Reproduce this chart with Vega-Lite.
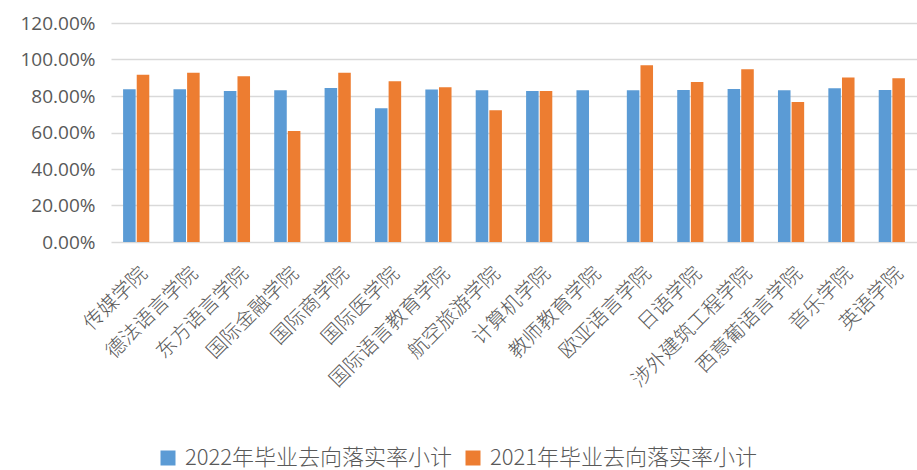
{
  "$schema": "https://vega.github.io/schema/vega-lite/v6.json",
  "autosize": {"type": "none"},
  "width": 806,
  "height": 219,
  "padding": {"left": 111, "top": 23, "right": 0, "bottom": 228},
  "background": "white",
  "data": {
    "values": [
      {"学院": "传媒学院", "系列": "2022年毕业去向落实率小计", "值": 0.837},
      {"学院": "传媒学院", "系列": "2021年毕业去向落实率小计", "值": 0.916},
      {"学院": "德法语言学院", "系列": "2022年毕业去向落实率小计", "值": 0.837},
      {"学院": "德法语言学院", "系列": "2021年毕业去向落实率小计", "值": 0.927},
      {"学院": "东方语言学院", "系列": "2022年毕业去向落实率小计", "值": 0.828},
      {"学院": "东方语言学院", "系列": "2021年毕业去向落实率小计", "值": 0.908},
      {"学院": "国际金融学院", "系列": "2022年毕业去向落实率小计", "值": 0.832},
      {"学院": "国际金融学院", "系列": "2021年毕业去向落实率小计", "值": 0.608},
      {"学院": "国际商学院", "系列": "2022年毕业去向落实率小计", "值": 0.844},
      {"学院": "国际商学院", "系列": "2021年毕业去向落实率小计", "值": 0.927},
      {"学院": "国际医学院", "系列": "2022年毕业去向落实率小计", "值": 0.733},
      {"学院": "国际医学院", "系列": "2021年毕业去向落实率小计", "值": 0.881},
      {"学院": "国际语言教育学院", "系列": "2022年毕业去向落实率小计", "值": 0.835},
      {"学院": "国际语言教育学院", "系列": "2021年毕业去向落实率小计", "值": 0.848},
      {"学院": "航空旅游学院", "系列": "2022年毕业去向落实率小计", "值": 0.832},
      {"学院": "航空旅游学院", "系列": "2021年毕业去向落实率小计", "值": 0.722},
      {"学院": "计算机学院", "系列": "2022年毕业去向落实率小计", "值": 0.828},
      {"学院": "计算机学院", "系列": "2021年毕业去向落实率小计", "值": 0.828},
      {"学院": "教师教育学院", "系列": "2022年毕业去向落实率小计", "值": 0.832},
      {"学院": "欧亚语言学院", "系列": "2022年毕业去向落实率小计", "值": 0.832},
      {"学院": "欧亚语言学院", "系列": "2021年毕业去向落实率小计", "值": 0.969},
      {"学院": "日语学院", "系列": "2022年毕业去向落实率小计", "值": 0.833},
      {"学院": "日语学院", "系列": "2021年毕业去向落实率小计", "值": 0.877},
      {"学院": "涉外建筑工程学院", "系列": "2022年毕业去向落实率小计", "值": 0.839},
      {"学院": "涉外建筑工程学院", "系列": "2021年毕业去向落实率小计", "值": 0.947},
      {"学院": "西意葡语言学院", "系列": "2022年毕业去向落实率小计", "值": 0.832},
      {"学院": "西意葡语言学院", "系列": "2021年毕业去向落实率小计", "值": 0.767},
      {"学院": "音乐学院", "系列": "2022年毕业去向落实率小计", "值": 0.842},
      {"学院": "音乐学院", "系列": "2021年毕业去向落实率小计", "值": 0.901},
      {"学院": "英语学院", "系列": "2022年毕业去向落实率小计", "值": 0.833},
      {"学院": "英语学院", "系列": "2021年毕业去向落实率小计", "值": 0.897}
    ]
  },
  "mark": {"type": "bar"},
  "encoding": {
    "x": {
      "field": "学院",
      "type": "nominal",
      "sort": null,
      "scale": {"paddingInner": 0.48, "paddingOuter": 0.24},
      "axis": {
        "title": null,
        "labelAngle": -45,
        "labelAlign": "right",
        "labelBaseline": "middle",
        "labelFont": "Noto Sans CJK SC",
        "labelFontSize": 20,
        "labelFontWeight": 300,
        "labelColor": "#595959",
        "labelPadding": 28,
        "labelOffset": 8,
        "labelLimit": 400,
        "ticks": false,
        "domain": false,
        "grid": false
      }
    },
    "xOffset": {
      "field": "系列",
      "type": "nominal",
      "sort": ["2022年毕业去向落实率小计", "2021年毕业去向落实率小计"],
      "scale": {"paddingInner": 0.08, "paddingOuter": 0}
    },
    "y": {
      "field": "值",
      "type": "quantitative",
      "scale": {"domain": [0, 1.2], "nice": false},
      "axis": {
        "title": null,
        "format": ".2%",
        "values": [0, 0.2, 0.4, 0.6, 0.8, 1.0, 1.2],
        "labelFont": "Open Sans",
        "labelFontSize": 19,
        "labelColor": "#595959",
        "labelPadding": 16,
        "ticks": false,
        "domain": false,
        "gridColor": "#d9d9d9",
        "gridWidth": 1.5
      }
    },
    "color": {
      "field": "系列",
      "type": "nominal",
      "sort": ["2022年毕业去向落实率小计", "2021年毕业去向落实率小计"],
      "scale": {
        "domain": ["2022年毕业去向落实率小计", "2021年毕业去向落实率小计"],
        "range": ["#5B9BD5", "#ED7D31"]
      },
      "legend": {
        "title": null,
        "orient": "none",
        "legendX": 46,
        "legendY": 424,
        "direction": "horizontal",
        "symbolType": "square",
        "symbolSize": 225,
        "symbolStrokeWidth": 0,
        "labelFont": "Noto Sans CJK SC",
        "labelFontSize": 22,
        "labelFontWeight": 300,
        "labelColor": "#595959",
        "labelOffset": 6,
        "columnPadding": 9,
        "labelLimit": 500
      }
    }
  },
  "config": {"view": {"stroke": null}}
}
